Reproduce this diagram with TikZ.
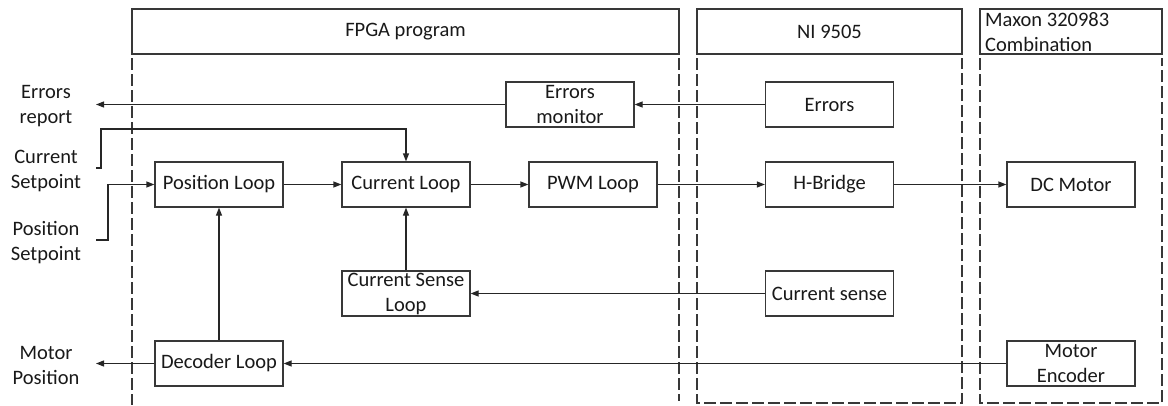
\documentclass[tikz,border=0pt]{standalone}
\usepackage{fontspec}
\setmainfont{Carlito}
\usetikzlibrary{arrows.meta}
\begin{document}
\begin{tikzpicture}[x=1pt,y=-1pt,
  every node/.style={font=\fontsize{20.5}{25}\selectfont, text=black!90},
  blk/.style={draw=black!78, line width=1.2pt, minimum width=128pt, minimum height=45pt,
              inner sep=0pt, align=center, fill=white},
  hdr/.style={draw=black!78, line width=1.2pt, inner sep=0pt, minimum height=45pt},
  lane/.style={draw=black!78, line width=1.2pt, dash pattern=on 12pt off 4pt},
  arr/.style={draw=black!85, line width=1.2pt, -{Triangle[length=8pt,width=6pt]}},
  lbl/.style={align=center, inner sep=0pt}]
\useasboundingbox (0,0) rectangle (1168,405);

% column headers
\node[hdr, minimum width=547pt] (fpga)  at (405.5,31.5) {FPGA program};
\node[hdr, minimum width=265pt] (ni)    at (829.5,31.5) {NI 9505};
\node[hdr, minimum width=182pt] (maxon) at (1071,31.5) {};
\node[lbl, anchor=north west, align=left] (maxontxt) at (985,12) {Maxon 320983\\Combination};

% dashed lanes
\draw[lane] (132,58) -- (132,405);
\draw[lane] (679,58) -- (679,401);
\draw[lane] (697,58) -- (697,403) -- (962,403) -- (962,58);
\draw[lane] (980,58) -- (980,403) -- (1162,403) -- (1162,58);

% blocks
\node[blk] (errmon)  at (570,104.5)   {Errors\\monitor};
\node[blk] (errors)  at (829.5,104.5) {Errors};
\node[blk] (posloop) at (219,184.5)   {Position Loop};
\node[blk] (curloop) at (406,184.5)   {Current Loop};
\node[blk] (pwm)     at (593,184.5)   {PWM Loop};
\node[blk] (hbridge) at (829.5,184.5) {H-Bridge};
\node[blk] (motor)   at (1071,184.5)  {DC Motor};
\node[blk] (csloop)  at (406,293.5)   {Current Sense\\Loop};
\node[blk] (csense)  at (829.5,293.5) {Current sense};
\node[blk] (decoder) at (219,363.5)   {Decoder Loop};
\node[blk] (encoder) at (1071,363.5)  {Motor\\Encoder};

% external signals
\node[lbl] (errrep) at (46,106) {Errors\\report};
\node[lbl] (cursp)  at (46,171) {Current\\Setpoint};
\node[lbl] (possp)  at (46,243) {Position\\Setpoint};
\node[lbl] (motpos) at (46,365) {Motor\\Position};

\coordinate (errOut) at (96,104.5);
\coordinate (curIn)  at (96,168);
\coordinate (posIn)  at (96,240);
\coordinate (motOut) at (96,363.5);

% connectors
\draw[arr] (errors) -- (errmon);
\draw[arr] (errmon) -- (errOut);
\draw[arr] (curIn) -- (101,168) -- (101,129) -| (curloop.north);
\draw[arr] (posIn) -- (108,240) |- (posloop.west);
\draw[arr] (posloop) -- (curloop);
\draw[arr] (curloop) -- (pwm);
\draw[arr] (pwm) -- (hbridge);
\draw[arr] (hbridge) -- (motor);
\draw[arr] (csloop) -- (curloop);
\draw[arr] (csense) -- (csloop);
\draw[arr] (decoder) -- (posloop);
\draw[arr] (encoder) -- (decoder);
\draw[arr] (decoder) -- (motOut);
\end{tikzpicture}
\end{document}
